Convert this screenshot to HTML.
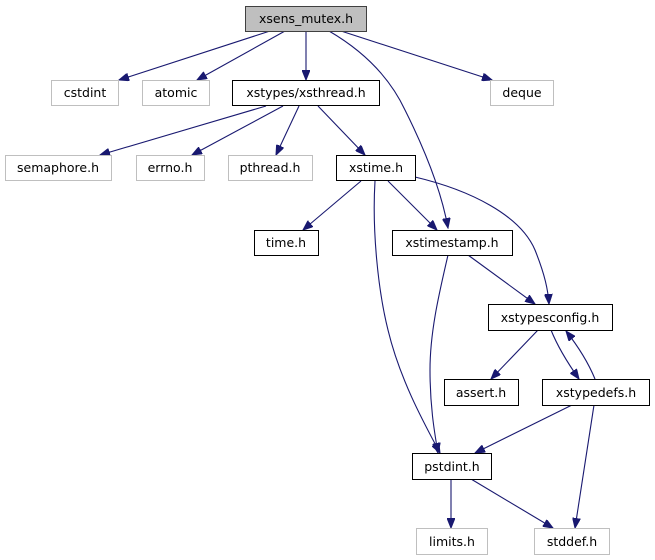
<!DOCTYPE html>
<html><head><meta charset="utf-8"><style>
html,body{margin:0;padding:0;background:#fff;}
svg{display:block}
text{font-family:"DejaVu Sans","Liberation Sans",sans-serif;font-size:12.5px;fill:#000;text-anchor:middle}
</style></head><body>
<svg width="655" height="560" viewBox="0 0 655 560" xmlns="http://www.w3.org/2000/svg">
<defs>
<marker id="a" markerUnits="userSpaceOnUse" markerWidth="11" markerHeight="8" refX="10" refY="4" orient="auto">
<path d="M0,0 L10,4 L0,8 z" fill="#191970" stroke="#191970"/>
</marker>
</defs>
<g fill="none" stroke="#191970" stroke-width="1.1" marker-end="url(#a)">
<path d="M270,31 L119,80"/>
<path d="M285,31 L197,80"/>
<path d="M306,31 L306,80"/>
<path d="M329,31 C365,52 390,78 405,110 C430,160 443,200 448,228"/>
<path d="M341,31 L492,80"/>
<path d="M266,106 L100,155"/>
<path d="M283,106 L192,155"/>
<path d="M299,106 L276,155"/>
<path d="M318,106 L365,155"/>
<path d="M361,181 L303,230"/>
<path d="M388,181 L437,230"/>
<path d="M375,181 C372,230 378,290 388,330 C400,380 425,425 440,453"/>
<path d="M415,177 C470,190 520,215 535,250 C545,275 548,290 549,304"/>
<path d="M448,255 C440,290 430,330 430,370 C430,405 434,430 438,453"/>
<path d="M468,255 L535,304"/>
<path d="M538,330 L491,379"/>
<path d="M551,330 C557,345 567,362 579,379"/>
<path d="M595,379 C588,362 577,345 566,331"/>
<path d="M572,405 L475,453"/>
<path d="M594,405 L575,528"/>
<path d="M451,479 L451,528"/>
<path d="M471,479 L553,528"/>
</g>
<g stroke-width="1">
<rect x="245.5" y="6.5" width="121" height="25" fill="#bfbfbf" stroke="#404040"/>
<rect x="51.5" y="80.5" width="67" height="25" fill="#fff" stroke="#bfbfbf"/>
<rect x="142.5" y="80.5" width="67" height="25" fill="#fff" stroke="#bfbfbf"/>
<rect x="232.5" y="80.5" width="147" height="25" fill="#fff" stroke="#000"/>
<rect x="490.5" y="80.5" width="63" height="25" fill="#fff" stroke="#bfbfbf"/>
<rect x="5.5" y="155.5" width="106" height="25" fill="#fff" stroke="#bfbfbf"/>
<rect x="136.5" y="155.5" width="68" height="25" fill="#fff" stroke="#bfbfbf"/>
<rect x="228.5" y="155.5" width="84" height="25" fill="#fff" stroke="#bfbfbf"/>
<rect x="336.5" y="155.5" width="79" height="25" fill="#fff" stroke="#000"/>
<rect x="254.5" y="230.5" width="64" height="25" fill="#fff" stroke="#000"/>
<rect x="392.5" y="230.5" width="120" height="25" fill="#fff" stroke="#000"/>
<rect x="488.5" y="304.5" width="124" height="26" fill="#fff" stroke="#000"/>
<rect x="444.5" y="379.5" width="74" height="26" fill="#fff" stroke="#000"/>
<rect x="542.5" y="379.5" width="107" height="26" fill="#fff" stroke="#000"/>
<rect x="412.5" y="453.5" width="79" height="26" fill="#fff" stroke="#000"/>
<rect x="416.5" y="528.5" width="71" height="26" fill="#fff" stroke="#bfbfbf"/>
<rect x="534.5" y="528.5" width="75" height="26" fill="#fff" stroke="#bfbfbf"/>
</g>
<text x="306" y="23">xsens_mutex.h</text>
<text x="85" y="97">cstdint</text>
<text x="176" y="97">atomic</text>
<text x="306" y="97">xstypes/xsthread.h</text>
<text x="522" y="97">deque</text>
<text x="58" y="172">semaphore.h</text>
<text x="170" y="172">errno.h</text>
<text x="270" y="172">pthread.h</text>
<text x="376" y="172">xstime.h</text>
<text x="286" y="247">time.h</text>
<text x="452" y="247">xstimestamp.h</text>
<text x="550" y="322">xstypesconfig.h</text>
<text x="481" y="397">assert.h</text>
<text x="596" y="397">xstypedefs.h</text>
<text x="452" y="471">pstdint.h</text>
<text x="452" y="546">limits.h</text>
<text x="572" y="546">stddef.h</text>
</svg>
</body></html>
